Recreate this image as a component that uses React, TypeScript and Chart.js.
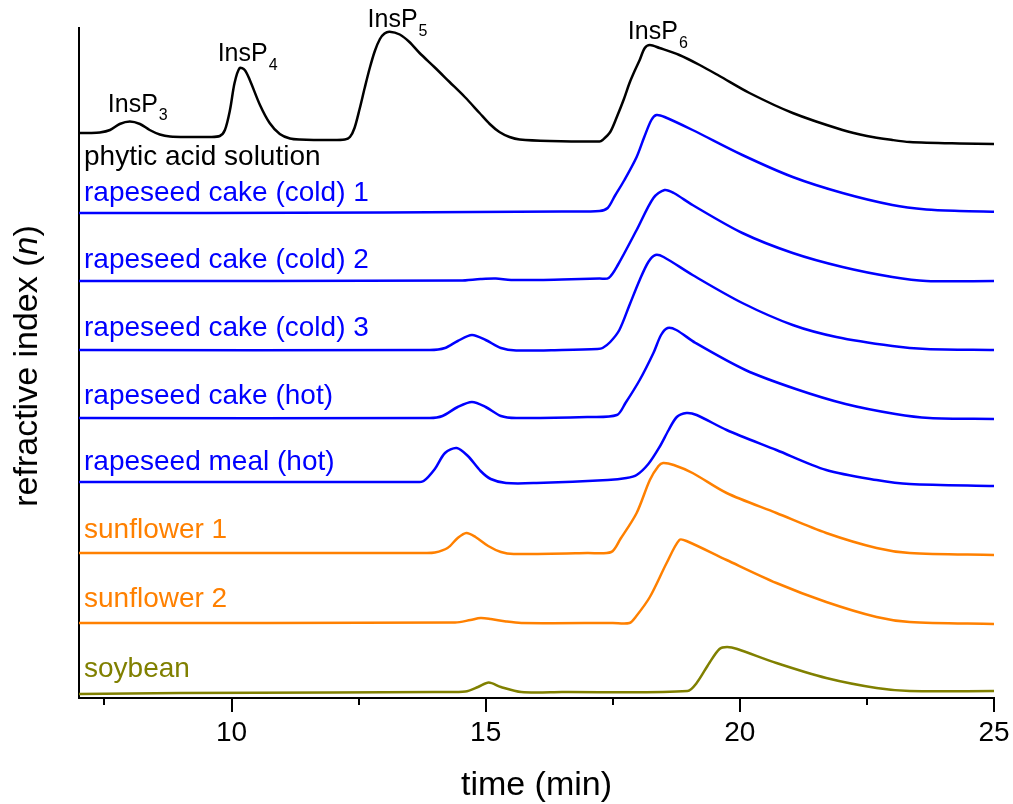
import { useEffect, useRef } from 'react';
import { Chart, registerables } from 'chart.js';

Chart.register(...registerables);

const SANS = '"Liberation Sans", Arial, Helvetica, sans-serif';

// Retention time (min) and detector response for each chromatogram
const phyticTime = [7.0, 7.21, 7.41, 7.61, 7.8, 8.0, 8.2, 8.39, 8.59, 8.79, 9.18, 9.57, 9.77, 9.87, 9.97, 10.06, 10.16, 10.26, 10.36, 10.56, 10.75, 10.95, 11.15, 11.34, 11.93, 12.23, 12.33, 12.42, 12.52, 12.62, 12.72, 12.82, 12.92, 13.01, 13.11, 13.31, 13.5, 13.7, 13.99, 14.29, 14.59, 14.88, 15.08, 15.27, 15.47, 15.67, 16.26, 17.24, 17.3, 17.45, 17.58, 17.72, 17.83, 17.93, 18.03, 18.13, 18.23, 18.42, 18.81, 19.21, 19.6, 20.19, 21.04, 22.02, 22.5, 23.0, 23.34, 24.32, 25.0];
const phyticSignal = [0.1, 0.1, 0.15, 0.4, 1.0, 1.25, 1.0, 0.4, -0.05, -0.25, -0.3, -0.3, -0.2, 0.4, 2.4, 5.1, 6.6, 6.4, 5.4, 2.9, 1.1, 0.0, -0.45, -0.55, -0.6, -0.55, -0.3, 0.6, 2.5, 4.6, 6.6, 8.3, 9.5, 10.05, 10.23, 9.95, 9.2, 8.1, 6.7, 5.2, 3.7, 2.1, 1.0, 0.2, -0.3, -0.55, -0.7, -0.75, -0.6, 0.2, 1.7, 3.5, 5.1, 6.3, 7.4, 8.6, 8.9, 8.6, 7.9, 6.9, 5.8, 4.1, 2.1, 0.4, -0.2, -0.6, -0.8, -0.95, -1.0];

const cold1Time = [7.0, 9.5, 13.0, 16.5, 17.24, 17.4, 17.54, 17.73, 17.97, 18.12, 18.26, 18.36, 18.52, 19.07, 20.05, 21.04, 22.02, 23.0, 23.67, 24.32, 25.0];
const cold1Signal = [0.0, 0.0, 0.05, 0.15, 0.2, 0.5, 1.7, 3.3, 5.6, 7.6, 9.3, 9.8, 9.6, 8.3, 5.8, 3.6, 2.0, 0.8, 0.35, 0.2, 0.13];

const cold2Time = [7.0, 14.5, 14.9, 15.2, 15.5, 16.5, 17.24, 17.42, 17.6, 17.97, 18.3, 18.52, 18.7, 19.07, 20.05, 21.04, 22.02, 23.0, 23.67, 25.0];
const cold2Signal = [0.0, 0.05, 0.2, 0.25, 0.1, 0.15, 0.25, 0.3, 1.6, 5.1, 8.3, 9.1, 8.8, 7.6, 4.8, 2.8, 1.4, 0.4, 0.0, 0.0];

const cold3Time = [7.0, 13.9, 14.2, 14.45, 14.73, 15.0, 15.3, 15.6, 16.5, 17.2, 17.3, 17.45, 17.63, 17.83, 18.03, 18.2, 18.34, 18.5, 19.07, 20.05, 21.04, 21.9, 23.0, 23.67, 25.0];
const cold3Signal = [0.0, 0.0, 0.2, 0.9, 1.5, 1.0, 0.2, -0.05, 0.0, 0.1, 0.2, 0.8, 2.0, 4.5, 7.0, 8.8, 9.5, 9.3, 7.5, 4.7, 2.5, 1.3, 0.4, 0.1, 0.0];

const cakeHotTime = [7.0, 13.9, 14.15, 14.45, 14.73, 15.0, 15.3, 15.6, 17.0, 17.58, 17.75, 18.03, 18.3, 18.45, 18.58, 18.75, 19.13, 20.11, 21.1, 22.08, 23.06, 23.73, 25.0];
const cakeHotSignal = [0.0, 0.0, 0.2, 1.1, 1.6, 1.1, 0.2, 0.0, 0.1, 0.3, 1.5, 3.8, 6.5, 8.3, 9.0, 8.8, 7.5, 4.8, 2.9, 1.4, 0.4, 0.0, -0.1];

const mealHotTime = [7.0, 13.6, 13.78, 14.0, 14.2, 14.43, 14.65, 14.9, 15.1, 15.4, 16.0, 17.4, 17.77, 17.97, 18.2, 18.42, 18.6, 18.76, 18.95, 19.15, 19.74, 20.72, 21.7, 22.69, 23.34, 25.0];
const mealHotSignal = [0.0, 0.0, 0.1, 1.3, 2.9, 3.4, 2.6, 1.1, 0.3, -0.1, -0.1, 0.2, 0.4, 0.7, 1.8, 3.5, 5.2, 6.5, 6.9, 6.7, 5.2, 3.2, 1.2, 0.2, -0.2, -0.4];

const sunflower1Time = [7.0, 13.8, 14.0, 14.25, 14.45, 14.62, 14.8, 15.05, 15.3, 15.55, 17.0, 17.47, 17.65, 17.97, 18.23, 18.4, 18.49, 18.7, 19.07, 19.74, 20.72, 21.7, 22.69, 23.34, 25.0];
const sunflower1Signal = [0.0, 0.0, 0.05, 0.5, 1.5, 2.0, 1.6, 0.7, 0.1, -0.1, 0.0, 0.1, 1.4, 4.0, 7.3, 8.7, 9.0, 8.8, 8.0, 6.0, 4.0, 2.0, 0.5, 0.0, -0.2];

const sunflower2Time = [7.0, 14.4, 14.7, 14.9, 15.1, 15.4, 15.7, 17.5, 17.83, 17.95, 18.23, 18.56, 18.81, 18.95, 19.74, 20.72, 21.7, 22.69, 23.34, 25.0];
const sunflower2Signal = [0.0, 0.05, 0.3, 0.5, 0.4, 0.15, 0.0, 0.0, 0.0, 0.6, 2.6, 6.0, 8.3, 8.2, 6.3, 4.0, 2.1, 0.6, 0.1, -0.1];

const soybeanTime = [7.0, 9.0, 12.0, 14.0, 14.6, 14.85, 15.06, 15.3, 15.7, 16.5, 18.97, 19.15, 19.4, 19.6, 19.75, 19.95, 20.72, 21.7, 22.69, 23.34, 25.0];
const soybeanSignal = [-0.1, 0.0, 0.05, 0.1, 0.15, 0.6, 1.05, 0.6, 0.1, 0.1, 0.2, 1.0, 3.0, 4.4, 4.6, 4.4, 3.0, 1.5, 0.5, 0.2, 0.2];

const seriesNames = [
  'phytic acid solution',
  'rapeseed cake (cold) 1',
  'rapeseed cake (cold) 2',
  'rapeseed cake (cold) 3',
  'rapeseed cake (hot)',
  'rapeseed meal (hot)',
  'sunflower 1',
  'sunflower 2',
  'soybean',
];
const seriesTimes = [phyticTime, cold1Time, cold2Time, cold3Time, cakeHotTime, mealHotTime, sunflower1Time, sunflower2Time, soybeanTime];
const seriesSignals = [phyticSignal, cold1Signal, cold2Signal, cold3Signal, cakeHotSignal, mealHotSignal, sunflower1Signal, sunflower2Signal, soybeanSignal];
// vertical stacking offset of each trace
const stackOffsets = [56.4, 48.5, 41.7, 34.8, 28.0, 21.6, 14.5, 7.5, 0.5];
const seriesColors = ['#000000', '#0000ff', '#0000ff', '#0000ff', '#0000ff', '#0000ff', '#ff8000', '#ff8000', '#808000'];

// inositol phosphate peaks of the standard
const peakNames = ['InsP', 'InsP', 'InsP', 'InsP'];
const peakSubscripts = ['3', '4', '5', '6'];
const peakTimes = [8.0, 10.16, 13.11, 18.23];

const xTickValues = [7.5, 10, 12.5, 15, 17.5, 20, 22.5, 25];
const xTitle = 'time (min)';
const yTitleParts = [
  { text: 'refractive index (', italic: false },
  { text: 'n', italic: true },
  { text: ')', italic: false },
];

// label baseline relative to the trace baseline, px
const labelShift = [31, -12, -13, -14, -14, -12, -15, -16, -16];
const peakLabelGap = [10, 7, 4.5, 6];

const overlayPlugin = {
  id: 'chromatogramOverlay',
  afterDraw(chart: any) {
    const { ctx, chartArea, scales } = chart;
    const xs = scales.x;
    const ys = scales.y;
    ctx.save();

    // outward tick marks on the time axis
    ctx.strokeStyle = '#000';
    ctx.lineWidth = 2;
    const axisY = chartArea.bottom;
    for (const v of xTickValues) {
      const px = Math.round(xs.getPixelForValue(v));
      const len = v % 5 === 0 ? 14 : 7;
      ctx.beginPath();
      ctx.moveTo(px, axisY);
      ctx.lineTo(px, axisY + len);
      ctx.stroke();
    }

    // axis titles
    ctx.fillStyle = '#000';
    ctx.font = `34px ${SANS}`;
    ctx.textAlign = 'center';
    ctx.textBaseline = 'alphabetic';
    ctx.fillText(xTitle, (chartArea.left + chartArea.right) / 2, 795);

    ctx.save();
    ctx.translate(37, (chartArea.top + chartArea.bottom) / 2 + 3);
    ctx.rotate(-Math.PI / 2);
    ctx.textAlign = 'left';
    let total = 0;
    const widths = yTitleParts.map((p) => {
      ctx.font = `${p.italic ? 'italic ' : ''}34px ${SANS}`;
      const w = ctx.measureText(p.text).width;
      total += w;
      return w;
    });
    let cx = -total / 2;
    yTitleParts.forEach((p, i) => {
      ctx.font = `${p.italic ? 'italic ' : ''}34px ${SANS}`;
      ctx.fillText(p.text, cx, 0);
      cx += widths[i];
    });
    ctx.restore();

    // trace names
    ctx.textAlign = 'left';
    ctx.font = `28px ${SANS}`;
    seriesNames.forEach((name, i) => {
      ctx.fillStyle = seriesColors[i];
      const base = ys.getPixelForValue(stackOffsets[i]);
      ctx.fillText(name, 84, base + labelShift[i]);
    });

    // peak annotations on the standard
    ctx.fillStyle = '#000';
    peakTimes.forEach((t, i) => {
      const idx = phyticTime.indexOf(t);
      const v = phyticSignal[idx];
      const px = xs.getPixelForValue(t) - 22;
      const py = ys.getPixelForValue(stackOffsets[0] + v) - peakLabelGap[i];
      ctx.font = `25px ${SANS}`;
      ctx.fillText(peakNames[i], px, py);
      const w = ctx.measureText(peakNames[i]).width;
      ctx.font = `16px ${SANS}`;
      ctx.fillText(peakSubscripts[i], px + w + 1, py + 8.5);
    });

    ctx.restore();
  },
};

export default function App() {
  const canvasRef = useRef<HTMLCanvasElement | null>(null);

  useEffect(() => {
    const canvas = canvasRef.current;
    if (!canvas) return;
    const datasets = seriesNames.map((name, i) => ({
      label: name,
      data: seriesTimes[i].map((t, k) => ({ x: t, y: seriesSignals[i][k] + stackOffsets[i] })),
      borderColor: seriesColors[i],
      backgroundColor: seriesColors[i],
      borderWidth: 2.5,
      pointRadius: 0,
      fill: false,
      tension: 0.3,
    }));

    const chart = new Chart(canvas, {
      type: 'line',
      data: { datasets },
      plugins: [overlayPlugin],
      options: {
        responsive: false,
        animation: false,
        devicePixelRatio: 1,
        layout: { padding: { top: 28, right: 19, left: 0, bottom: 0 } },
        plugins: {
          legend: { display: false },
          tooltip: { enabled: false },
        },
        scales: {
          x: {
            type: 'linear',
            min: 7,
            max: 25,
            afterBuildTicks: (scale: any) => {
              scale.ticks = xTickValues.map((v) => ({ value: v }));
            },
            afterFit: (scale: any) => {
              scale.height = 106;
              scale.paddingLeft = 0;
              scale.paddingRight = 0;
            },
            ticks: {
              autoSkip: false,
              maxRotation: 0,
              padding: 18,
              color: '#000',
              font: { family: SANS, size: 28 },
              callback: (v: any) => (Number(v) % 5 === 0 ? String(v) : ''),
            },
            grid: { display: false, drawTicks: false },
            border: { display: true, color: '#000', width: 2 },
          },
          y: {
            type: 'linear',
            min: 0,
            max: 67,
            afterFit: (scale: any) => {
              scale.width = 79;
              scale.paddingTop = 0;
              scale.paddingBottom = 0;
            },
            ticks: { display: false },
            grid: { display: false, drawTicks: false },
            border: { display: true, color: '#000', width: 2 },
          },
        },
      },
    });
    return () => chart.destroy();
  }, []);

  return (
    <div style={{ position: 'absolute', left: 0, top: 0, width: 1013, height: 804, background: '#fff' }}>
      <canvas ref={canvasRef} width={1013} height={804} style={{ display: 'block' }} />
    </div>
  );
}
